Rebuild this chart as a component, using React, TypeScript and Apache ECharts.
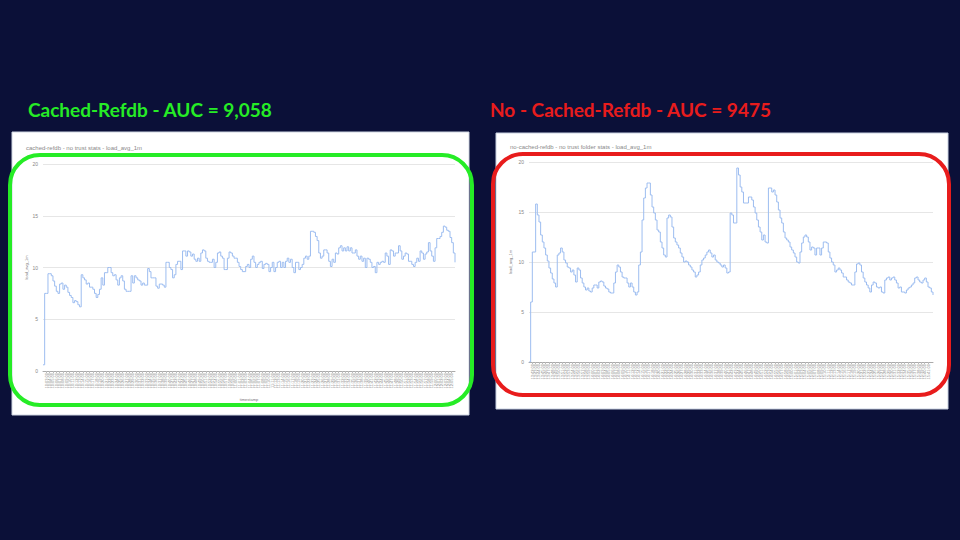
import React, { useEffect, useRef } from "react";
import * as echarts from "echarts";

// ---------- DATA ----------
const cachedTitle = "Cached-Refdb - AUC = 9,058";
const noCachedTitle = "No - Cached-Refdb - AUC = 9475";
const cachedChartTitle = "cached-refdb - no trust stats - load_avg_1m";
const noCachedChartTitle = "no-cached-refdb - no trust folder stats - load_avg_1m";
const yTicks = [0, 5, 10, 15, 20];

const cachedLoad: number[] = [
  0.6, 7.5, 7.5, 9.4, 9.4, 9.2, 8.7, 8.2, 7.7, 7.5, 8.4, 8.5, 7.9, 8.3, 8.1, 7.6, 7.3, 7.1, 6.6, 6.8,
  6.7, 6.4, 6.2, 9.3, 9.0, 8.8, 8.4, 8.5, 8.1, 8.1, 7.9, 7.5, 7.1, 7.4, 7.9, 9.0, 8.3, 9.5, 9.5, 10.0,
  10.0, 9.5, 9.2, 9.3, 8.8, 8.3, 9.0, 9.2, 8.7, 7.9, 7.7, 7.7, 7.7, 9.2, 8.5, 9.2, 9.0, 8.8, 8.7, 8.3,
  8.5, 8.3, 8.3, 9.9, 9.6, 9.0, 9.0, 9.0, 8.2, 8.0, 8.4, 8.4, 8.3, 8.1, 10.5, 10.5, 10.0, 9.8, 9.0, 9.3,
  10.3, 10.6, 10.6, 9.8, 11.6,
  11.6, 11.1, 11.6, 11.5, 11.1, 11.3, 10.8, 10.6, 10.9, 10.6, 11.4, 11.7, 11.6, 10.9, 10.6, 10.5, 10.5,
  10.8, 10.0, 10.5, 11.4, 11.5, 11.1, 10.9, 9.8, 9.8, 10.9, 11.5, 11.4, 11.1, 10.9, 10.9, 10.5, 10.1,
  9.8, 9.6, 9.6, 10.1, 10.3, 10.0, 10.8, 11.1, 10.5, 10.0, 10.3, 10.5, 10.6, 9.9, 10.3, 10.4, 10.3, 9.6,
  10.0, 10.5, 9.6, 10.0, 10.5, 10.6, 10.0, 10.5, 10.0, 10.6, 10.9, 10.5, 10.8, 10.0, 9.5, 10.5, 10.5,
  9.8, 10.0, 10.3, 10.9, 11.1, 10.8, 11.1, 13.5, 13.5, 13.4, 13.0, 12.6, 11.4, 10.9, 11.1, 11.7, 11.7,
  11.4, 10.6, 10.1, 10.8, 10.5, 11.4, 11.3, 11.9, 12.1, 11.6, 11.9, 11.6, 12.0, 11.6, 11.9, 11.4, 11.4,
  11.7, 11.1, 10.8, 11.1, 10.6, 10.9, 10.0, 10.9, 10.8, 10.5, 10.0, 10.1, 9.5, 10.5, 10.3, 10.5, 10.6,
  10.5, 11.4, 11.1, 10.3, 11.7, 11.6, 11.1, 11.4, 11.4, 12.1, 11.6, 10.8, 11.1, 11.4, 11.3, 10.6, 10.6,
  10.3, 10.1, 10.5, 10.9, 10.6, 11.6, 11.4, 10.8, 11.3, 11.5, 12.4, 11.6, 11.1, 10.6, 11.9, 12.8, 12.8,
  13.0, 13.4, 14.0, 13.9, 13.6, 13.5, 12.9, 12.4, 11.4, 10.5,
];

const noCachedLoad: number[] = [
  0.0, 6.0, 11.0, 11.0, 15.8, 14.7, 14.0, 12.7, 12.0, 11.4, 10.7, 10.1, 9.4, 8.9, 8.3, 7.9, 7.5, 10.7,
  10.9, 11.4, 11.0, 10.2, 9.9, 9.5, 9.4, 9.0, 9.2, 8.7, 8.0, 9.4, 9.2, 8.4, 7.9, 7.5, 7.2, 7.4, 7.1, 7.0,
  7.4, 7.7, 7.7, 7.4, 8.0, 8.1, 8.0, 7.6, 7.4, 7.3, 7.0, 6.9, 6.9, 7.9, 9.0, 9.7, 9.5, 9.0, 8.5, 8.4, 8.4,
  7.9, 7.5, 7.9, 7.5, 7.0, 6.7, 7.0, 9.7, 11.0, 14.2, 16.4, 17.4, 17.9, 17.9, 16.7, 15.5, 14.9, 14.2,
  13.2, 13.0, 12.0, 11.4,
  10.7, 10.5, 14.4, 14.7, 14.5, 13.5, 12.4, 12.0, 11.7, 11.4, 10.9, 10.5, 10.0, 10.1, 10.0, 9.7, 9.5,
  9.2, 9.0, 8.5, 8.7, 9.0, 9.7, 10.2, 10.4, 10.7, 11.0, 11.2, 10.9, 10.5, 10.7, 10.2, 10.0, 9.9, 9.7,
  9.5, 9.7, 9.4, 8.9, 9.0, 14.9, 14.7, 13.9, 13.9, 19.4, 18.7, 17.5, 17.0, 15.9, 15.9, 15.9, 16.5,
  16.5, 16.2, 15.5, 14.9, 14.2, 13.5, 13.0, 12.2, 12.7, 12.0, 11.9, 17.4, 17.4, 17.0, 17.2, 16.7, 16.0,
  15.2, 14.4, 13.9, 13.0, 12.4, 12.2, 12.0, 11.5, 11.2, 10.9, 10.5, 10.0, 9.9,
  11.0, 11.9, 12.5, 12.7, 12.5, 12.0, 11.2, 11.5, 11.4, 10.7, 11.4, 11.4, 10.7, 11.4, 12.0, 12.0, 11.9,
  11.0, 10.4, 10.0, 9.7, 9.0, 9.2, 9.4, 9.2, 8.9, 8.5, 8.5, 8.2, 8.0, 7.9, 7.7, 7.7, 9.0, 9.8, 9.9, 9.7,
  9.0, 8.4, 8.0, 7.7, 7.4, 7.0, 7.7, 8.0, 7.9, 7.5, 7.4, 7.5, 7.0, 6.9, 8.2, 8.4, 8.5, 8.2, 8.4, 8.5,
  8.2, 7.9, 7.4, 7.5, 7.0, 7.0, 6.9, 7.2, 7.4, 7.5, 7.7, 7.9, 8.4, 8.5, 8.2, 8.0, 7.9, 8.2, 8.4, 8.0,
  7.5, 7.4, 7.0, 6.7,
];

// timestamp category labels (illegible in the source, rendered as tiny time stamps)
function makeTimestamps(count: number, startH: number, startM: number, stepSec: number): string[] {
  const out: string[] = [];
  for (let i = 0; i < count; i++) {
    const t = startH * 3600 + startM * 60 + i * stepSec;
    const h = Math.floor(t / 3600) % 24;
    const m = Math.floor(t / 60) % 60;
    const s = t % 60;
    const p = (n: number) => String(n).padStart(2, "0");
    out.push(`${p(h)}:${p(m)}:${p(s)}`);
  }
  return out;
}
const cachedTimes = makeTimestamps(cachedLoad.length, 10, 2, 30);
const noCachedTimes = makeTimestamps(noCachedLoad.length, 13, 41, 30);

const BG = "#0b1038";
const LINE = "#9dbdf0";
const GREEN = "#26ec26";
const RED = "#e81c1c";

export default function App() {
  const ref = useRef<HTMLDivElement>(null);
  useEffect(() => {
    if (!ref.current) return;
    const chart = echarts.init(ref.current, undefined, { renderer: "svg" });

    const axisLabelStyle = { fontSize: 5, color: "#888", fontFamily: "Liberation Sans" };
    const makeX = (gridIndex: number, data: string[], gap: number) => ({
      type: "category",
      gridIndex,
      data,
      boundaryGap: false,
      name: "timestamp",
      nameLocation: "middle",
      nameGap: gap,
      nameTextStyle: { fontSize: 4, color: "#777" },
      axisLine: { lineStyle: { color: "#aaa", width: 1 } },
      axisTick: { show: true, interval: 1, length: 2, lineStyle: { color: "#bbb" } },
      axisLabel: {
        interval: 1,
        rotate: 90,
        fontSize: 4,
        color: "#888",
        margin: 2,
        fontFamily: "Liberation Sans",
      },
      splitLine: { show: false },
    });
    const makeY = (gridIndex: number, gap: number) => ({
      type: "value",
      gridIndex,
      min: yTicks[0],
      max: yTicks[yTicks.length - 1],
      interval: yTicks[1] - yTicks[0],
      name: "load_avg_1m",
      nameLocation: "middle",
      nameGap: gap,
      nameTextStyle: { fontSize: 4, color: "#777" },
      axisLine: { show: false },
      axisTick: { show: false },
      axisLabel: { ...axisLabelStyle, margin: 5 },
      splitLine: { lineStyle: { color: "#e6e6e6", width: 1 } },
    });

    chart.setOption({
      animation: false,
      backgroundColor: BG,
      grid: [
        { left: 43, width: 412, top: 164, height: 207, containLabel: false },
        { left: 529, width: 404, top: 162, height: 200, containLabel: false },
      ],
      xAxis: [makeX(0, cachedTimes, 26), makeX(1, noCachedTimes, 30)],
      yAxis: [makeY(0, 14), makeY(1, 17)],
      series: [
        {
          type: "line",
          xAxisIndex: 0,
          yAxisIndex: 0,
          data: cachedLoad,
          step: "end",
          showSymbol: false,
          lineStyle: { color: LINE, width: 1 },
          z: 5,
        },
        {
          type: "line",
          xAxisIndex: 1,
          yAxisIndex: 1,
          data: noCachedLoad,
          step: "end",
          showSymbol: false,
          lineStyle: { color: LINE, width: 1 },
          z: 5,
        },
      ],
      graphic: [
        {
          type: "rect",
          z: -10,
          shape: { x: 12, y: 132, width: 457, height: 283 },
          style: { fill: "#ffffff", stroke: "#d0d6e2", lineWidth: 1 },
        },
        {
          type: "rect",
          z: -10,
          shape: { x: 496, y: 133, width: 452, height: 276 },
          style: { fill: "#ffffff", stroke: "#c8d0e0", lineWidth: 1 },
        },
        {
          type: "text",
          z: 10,
          x: 26,
          y: 145,
          style: { text: cachedChartTitle, fontSize: 6, fill: "#8a8a8a", fontFamily: "Liberation Sans" },
        },
        {
          type: "text",
          z: 10,
          x: 510,
          y: 144,
          style: { text: noCachedChartTitle, fontSize: 6, fill: "#8a8a8a", fontFamily: "Liberation Sans" },
        },
        {
          type: "text",
          z: 10,
          x: 28,
          y: 100,
          style: { text: cachedTitle, fontSize: 19, fontWeight: "bold", fill: GREEN, fontFamily: "Lato" },
        },
        {
          type: "text",
          z: 10,
          x: 490,
          y: 100,
          style: { text: noCachedTitle, fontSize: 19, fontWeight: "bold", fill: RED, fontFamily: "Lato" },
        },
        {
          type: "rect",
          z: 100,
          shape: { x: 10, y: 155, width: 462, height: 250, r: 30 },
          style: { fill: "rgba(0,0,0,0)", stroke: GREEN, lineWidth: 4 },
        },
        {
          type: "rect",
          z: 100,
          shape: { x: 493, y: 154, width: 456, height: 241, r: 30 },
          style: { fill: "rgba(0,0,0,0)", stroke: RED, lineWidth: 4 },
        },
      ],
    });
    return () => chart.dispose();
  }, []);

  return (
    <div
      ref={ref}
      style={{ position: "fixed", left: 0, top: 0, width: 960, height: 540 }}
    />
  );
}
